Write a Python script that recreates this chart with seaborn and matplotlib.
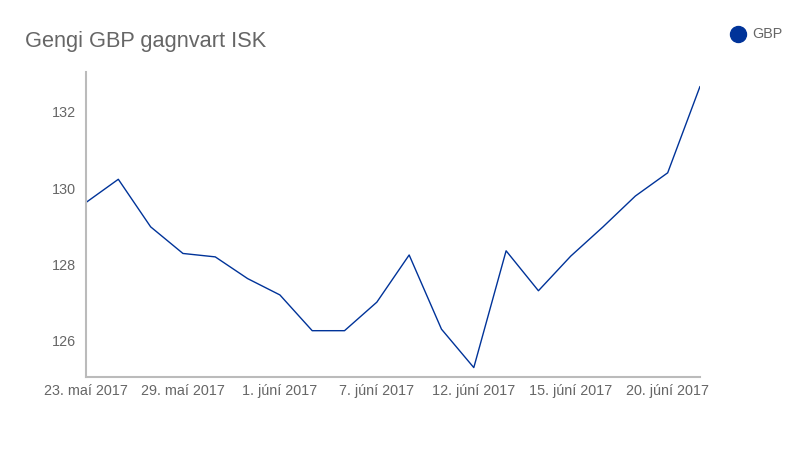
import pandas as pd
import numpy as np
import seaborn as sns
import matplotlib.pyplot as plt
from matplotlib.lines import Line2D

#Data (trading days, GBP in ISK)
dates = ["23. maí 2017", "24. maí 2017", "26. maí 2017", "29. maí 2017", "30. maí 2017",
         "31. maí 2017", "1. júní 2017", "2. júní 2017", "6. júní 2017", "7. júní 2017",
         "8. júní 2017", "9. júní 2017", "12. júní 2017", "13. júní 2017", "14. júní 2017",
         "15. júní 2017", "16. júní 2017", "19. júní 2017", "20. júní 2017", "21. júní 2017"]
gbp = [129.62, 130.23, 128.98, 128.28, 128.19, 127.62, 127.19, 126.25, 126.25, 127.00,
       128.24, 126.29, 125.28, 128.35, 127.30, 128.21, 128.98, 129.79, 130.40, 132.67]
y_ticks = [126, 128, 130, 132]

df = pd.DataFrame({'idx': range(len(dates)), 'date': dates, 'GBP': gbp})

sns.set_style("white")
plt.rcParams['font.family'] = ['Liberation Sans', 'DejaVu Sans']

fig = plt.figure(figsize=(8, 4.5), dpi=100)
ax = fig.add_axes([0.1075, 0.162, 0.7675, 0.678])

sns.lineplot(data=df, x='idx', y='GBP', color='#003399', linewidth=1, ax=ax)

ax.set_xlim(0, len(dates) - 1)
ax.set_ylim(125.03, 133.05)
ax.set_xticks(df['idx'][::3])
ax.set_xticklabels(df['date'][::3])
ax.set_yticks(y_ticks)
ax.tick_params(length=0, labelsize=10.4, colors='#666666', pad=7)
ax.tick_params(axis='x', pad=5)
ax.set_xlabel("")
ax.set_ylabel("")

for side in ['top', 'right']:
    ax.spines[side].set_visible(False)
for side in ['left', 'bottom']:
    ax.spines[side].set_color('#bbbbbb')
    ax.spines[side].set_linewidth(1.5)

fig.text(25 / 800, 1 - 41 / 450, "Gengi GBP gagnvart ISK", fontsize=15.7, color='#666666', va='center', ha='left')

#Legend
fig.add_artist(Line2D([738 / 800], [1 - 34 / 450], marker='o', markersize=11.5, color='#003399',
                      linestyle='none', transform=fig.transFigure))
fig.text(752 / 800, 1 - 34 / 450, "GBP", fontsize=10.4, color='#666666', va='center', ha='left')

fig.savefig("out.png", dpi=100)
